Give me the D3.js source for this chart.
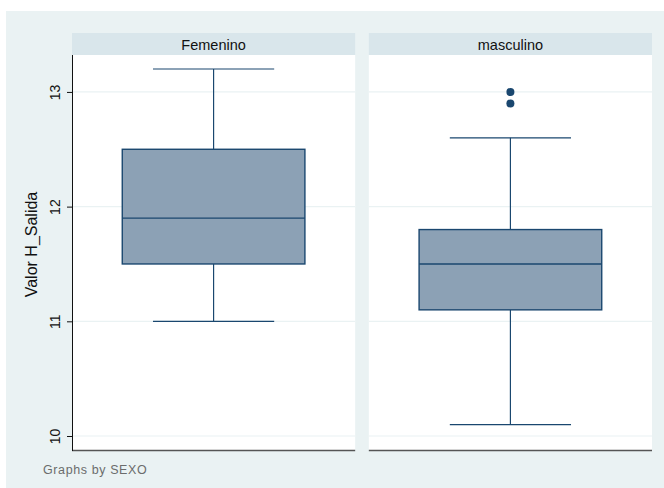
<!DOCTYPE html>
<html>
<head>
<meta charset="utf-8">
<script src="https://cdn.jsdelivr.net/npm/d3@7"></script>
<style>
  html, body { margin: 0; padding: 0; background: #fff; }
  svg { display: block; font-family: "Liberation Sans", Arial, sans-serif; }
</style>
</head>
<body>
<svg id="chart" width="664" height="488"></svg>
<script>
// Box plot summary of Valor H_Salida by SEXO
const groups = ["Femenino", "masculino"];
const lowerWhisker = [11.0, 10.1];
const q1 = [11.5, 11.1];
const median = [11.9, 11.5];
const q3 = [12.5, 11.8];
const upperWhisker = [13.2, 12.6];
const outliers = [[], [13.0, 12.9]];
const yTicks = [10, 11, 12, 13];

const svg = d3.select("#chart");

// graph region background
svg.append("rect").attr("x", 6).attr("y", 11).attr("width", 658).attr("height", 477)
  .attr("fill", "#eaf2f3");

const plotTop = 55, plotBottom = 450;
const panelX = d3.scaleBand().domain(groups).range([72, 652]).paddingInner(0.046);

const y = d3.scaleLinear().domain([9.878, 13.322]).range([plotBottom, plotTop]);

const boxFill = "#8ca1b5", boxStroke = "#1a476f";

groups.forEach((g, i) => {
  const x0 = panelX(g), w = panelX.bandwidth();
  const p = svg.append("g");

  // subtitle strip
  p.append("rect").attr("x", x0).attr("y", 33).attr("width", w).attr("height", 22)
    .attr("fill", "#d9e6eb");
  p.append("text").attr("x", x0 + w / 2).attr("y", 49.5).attr("text-anchor", "middle")
    .attr("font-size", 14.5).attr("fill", "#111").text(g);

  // plot region
  p.append("rect").attr("x", x0).attr("y", plotTop).attr("width", w).attr("height", plotBottom - plotTop)
    .attr("fill", "#fff");

  // grid lines
  p.selectAll(".grid").data(yTicks).join("line")
    .attr("x1", x0).attr("x2", x0 + w)
    .attr("y1", d => y(d)).attr("y2", d => y(d))
    .attr("stroke", "#eaf2f3").attr("stroke-width", 1.2);

  const cx = x0 + w / 2;
  const boxW = w * 0.645, capW = w * 0.428;

  // whiskers
  p.append("line").attr("x1", cx).attr("x2", cx).attr("y1", y(q3[i])).attr("y2", y(upperWhisker[i]))
    .attr("stroke", boxStroke).attr("stroke-width", 1.2);
  p.append("line").attr("x1", cx).attr("x2", cx).attr("y1", y(q1[i])).attr("y2", y(lowerWhisker[i]))
    .attr("stroke", boxStroke).attr("stroke-width", 1.2);
  [upperWhisker[i], lowerWhisker[i]].forEach(v => {
    p.append("line").attr("x1", cx - capW / 2).attr("x2", cx + capW / 2)
      .attr("y1", y(v)).attr("y2", y(v)).attr("stroke", boxStroke).attr("stroke-width", 1.2);
  });

  // box
  p.append("rect").attr("x", cx - boxW / 2).attr("y", y(q3[i]))
    .attr("width", boxW).attr("height", y(q1[i]) - y(q3[i]))
    .attr("fill", boxFill).attr("stroke", boxStroke).attr("stroke-width", 1.4);
  p.append("line").attr("x1", cx - boxW / 2).attr("x2", cx + boxW / 2)
    .attr("y1", y(median[i])).attr("y2", y(median[i]))
    .attr("stroke", boxStroke).attr("stroke-width", 1.4);

  // outside values
  p.selectAll(".out").data(outliers[i]).join("circle")
    .attr("cx", cx).attr("cy", d => y(d)).attr("r", 4).attr("fill", boxStroke);

  // x axis baseline
  p.append("line").attr("x1", x0).attr("x2", x0 + w).attr("y1", plotBottom + 0.5).attr("y2", plotBottom + 0.5)
    .attr("stroke", "#555").attr("stroke-width", 1.6);
});

// y axis on the first panel
const yAxis = d3.axisLeft(y).tickValues(yTicks).tickSize(5).tickPadding(4).tickFormat(d3.format("d"));
const ay = svg.append("g").attr("transform", `translate(${panelX(groups[0])},0)`).call(yAxis);
ay.select(".domain").attr("stroke", "#111").attr("d", `M0.5,${plotTop}V${plotBottom + 1}`);
ay.selectAll(".tick line").attr("stroke", "#111");
ay.selectAll(".tick text")
  .attr("font-size", 14).attr("fill", "#111")
  .attr("x", null).attr("dy", null)
  .attr("text-anchor", "middle")
  .attr("transform", "translate(-12,0) rotate(-90)");

// y axis title
svg.append("text").attr("transform", `translate(37,${(plotTop + plotBottom) / 2 - 8}) rotate(-90)`)
  .attr("text-anchor", "middle").attr("font-size", 16).attr("fill", "#111").text("Valor H_Salida");

// note
svg.append("text").attr("x", 43).attr("y", 474).attr("font-size", 12.5).attr("fill", "#555")
  .attr("letter-spacing", 0.6).attr("opacity", 0.85)
  .text("Graphs by SEXO");
</script>
</body>
</html>
